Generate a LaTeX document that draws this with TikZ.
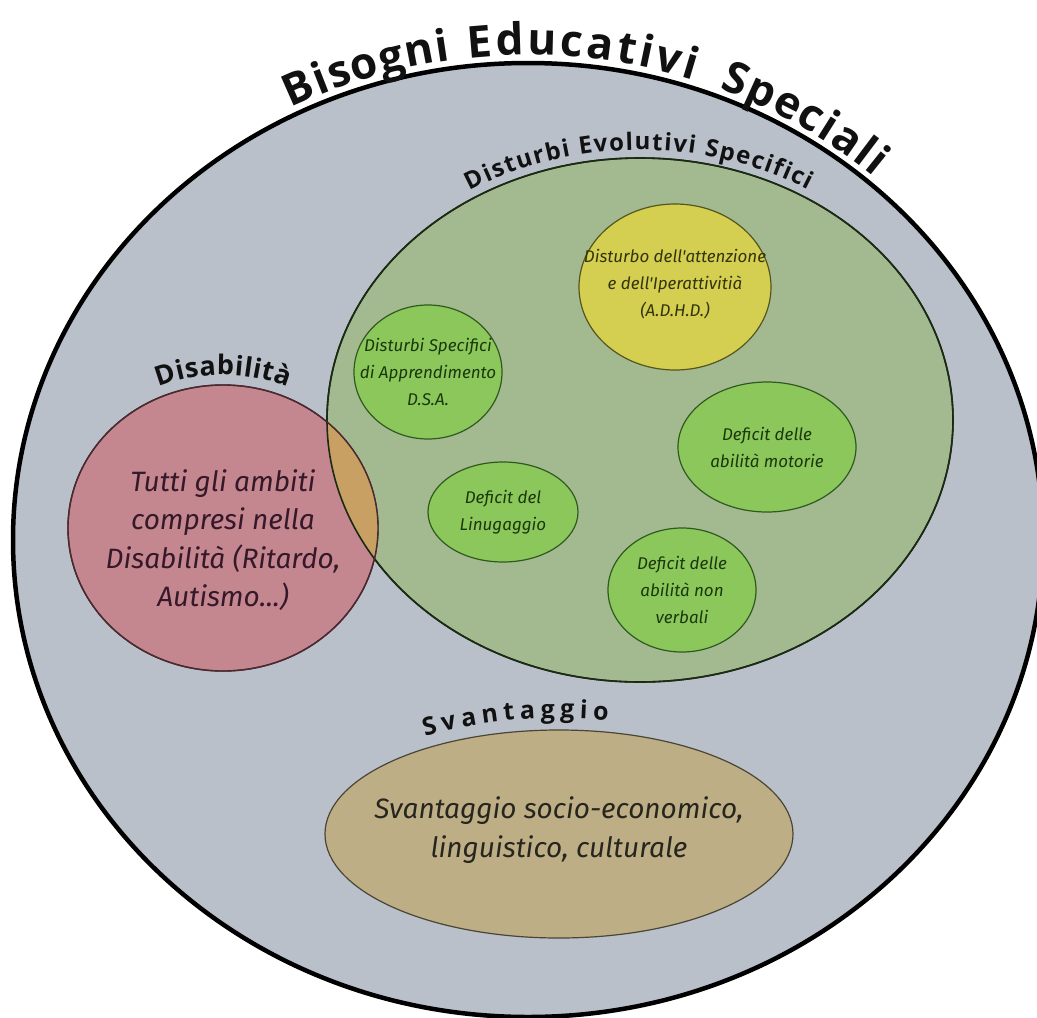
\documentclass[tikz,border=0pt]{standalone}
\usepackage{fontspec}
\usetikzlibrary{shapes.geometric,decorations.text,calc}
\newfontfamily\headfont{Open Sans}
\newfontfamily\bodyfont{Fira Sans}
\definecolor{outerfill}{HTML}{B9C0CA}
\definecolor{desfill}{HTML}{A3B98F}
\definecolor{desline}{HTML}{1B2A14}
\definecolor{smallfill}{HTML}{8CC75C}
\definecolor{smallline}{HTML}{2F5A1F}
\definecolor{smallink}{HTML}{1A380B}
\definecolor{yelfill}{HTML}{D4CF50}
\definecolor{yelline}{HTML}{55551E}
\definecolor{yelink}{HTML}{33330E}
\definecolor{disfill}{HTML}{C5878F}
\definecolor{disline}{HTML}{4A2A30}
\definecolor{disink}{HTML}{35192A}
\definecolor{ovlfill}{HTML}{C9A064}
\definecolor{svanfill}{HTML}{BEAE86}
\definecolor{svanline}{HTML}{4A4535}
\definecolor{svanink}{HTML}{26261E}
\definecolor{titleink}{HTML}{111111}
\newcommand\titlefmt{\color{titleink}\headfont\bfseries\fontsize{44}{52}\selectfont}
\newcommand\desfmt{\color{titleink}\headfont\bfseries\fontsize{24}{28}\selectfont}
\newcommand\subfmt{\color{titleink}\headfont\bfseries\fontsize{27}{32}\selectfont}
\newcommand\svanfmt{\color{titleink}\headfont\bfseries\fontsize{25}{30}\selectfont}
\begin{document}
\begin{tikzpicture}[x=1pt,y=1pt,
  blob/.style={ellipse, inner sep=0pt, outer sep=0pt},
  smallblob/.style={blob, fill=smallfill, draw=smallline, line width=1.2pt},
  smalltext/.style={align=center, text=smallink, font=\bodyfont\itshape\fontsize{17}{27}\selectfont, inner sep=0pt},
  bigtext/.style={align=center, font=\bodyfont\itshape\fontsize{28}{38.5}\selectfont, inner sep=0pt},
  arclabel/.style={decorate, decoration={text along path, text align=fit to path}}
]
\useasboundingbox (0,0) rectangle (1037,-1018);
\fill[white] (0,0) rectangle (1037,-1018);

% outer
\node[blob, minimum width=1030, minimum height=954, fill=outerfill, draw=black, line width=4.5pt] (bes) at (528,-540) {};

% green
\node[blob, minimum width=626, minimum height=524, fill=desfill, draw=desline, line width=1.6pt] (des) at (640,-420) {};

% red
\node[blob, minimum width=310, minimum height=286, fill=disfill, draw=disline, line width=1.4pt] (dis) at (223,-528) {};

% overlap
\begin{scope}
  \clip (des.center) ellipse [x radius=313, y radius=262];
  \fill[ovlfill] (dis.center) ellipse [x radius=155, y radius=143];
\end{scope}
\draw[desline, line width=1.6pt] (des.center) ellipse [x radius=313, y radius=262];
\draw[disline, line width=1.4pt] (dis.center) ellipse [x radius=155, y radius=143];

% small ellipses
\node[blob, minimum width=192, minimum height=166, fill=yelfill, draw=yelline, line width=1.2pt] (adhd) at (675,-287) {};
\node[smallblob, minimum width=148, minimum height=134] (dsa) at (428,-372) {};
\node[smallblob, minimum width=178, minimum height=130] (mot) at (767,-447) {};
\node[smallblob, minimum width=150, minimum height=100] (ling) at (503,-512) {};
\node[smallblob, minimum width=148, minimum height=124] (nonv) at (682,-590) {};

% svantaggio
\node[blob, minimum width=468, minimum height=208, fill=svanfill, draw=svanline, line width=1.2pt] (svan) at (559,-834) {};

% texts
\node[smalltext, text=yelink] (adhdT) at ($(adhd.center)+(0,3)$) {Disturbo dell'attenzione\\e dell'Iperattivitià\\(A.D.H.D.)};
\node[smalltext] (dsaT) at (dsa.center) {Disturbi Specifici\\di Apprendimento\\D.S.A.};
\node[smalltext] (motT) at (mot.center) {Deficit delle\\abilità motorie};
\node[smalltext] (lingT) at (ling.center) {Deficit del\\Linugaggio};
\node[smalltext] (nonvT) at (nonv.center) {Deficit delle\\abilità non\\verbali};
\node[bigtext, text=disink] (disT) at ($(dis.center)+(0,-12)$) {Tutti gli ambiti\\compresi nella\\Disabilità (Ritardo,\\Autismo...)};
\node[bigtext, text=svanink] (svanT) at ($(svan.center)+(0,4)$) {Svantaggio socio-economico,\\linguistico, culturale};

% curved labels
\path[arclabel, decoration={text={|\titlefmt|Bisogni}}]
  ($(bes.center)+(117:522pt and 485pt)$) arc[start angle=117, end angle=98.5, x radius=522, y radius=485];
\path[arclabel, decoration={text={|\titlefmt|Educativi}}]
  ($(bes.center)+(96.5:522pt and 485pt)$) arc[start angle=96.5, end angle=71.5, x radius=522, y radius=485];
\path[arclabel, decoration={text={|\titlefmt|Speciali}}]
  ($(bes.center)+(68.5:522pt and 485pt)$) arc[start angle=68.5, end angle=48.5, x radius=522, y radius=485];
\path[arclabel, decoration={text={|\desfmt|Disturbi Evolutivi Specifici}}]
  ($(des.center)+(122:321pt and 270pt)$) arc[start angle=122, end angle=58.4, x radius=321, y radius=270];
\path[arclabel, decoration={text={|\subfmt|Disabilità}}]
  ($(dis.center)+(113:165pt and 153pt)$) arc[start angle=113, end angle=67, x radius=165, y radius=153];
\path[arclabel, decoration={text={|\svanfmt|Svantaggio}}]
  ($(svan.center)+(123:246pt and 116pt)$) arc[start angle=123, end angle=78.5, x radius=246, y radius=116];
\end{tikzpicture}
\end{document}
